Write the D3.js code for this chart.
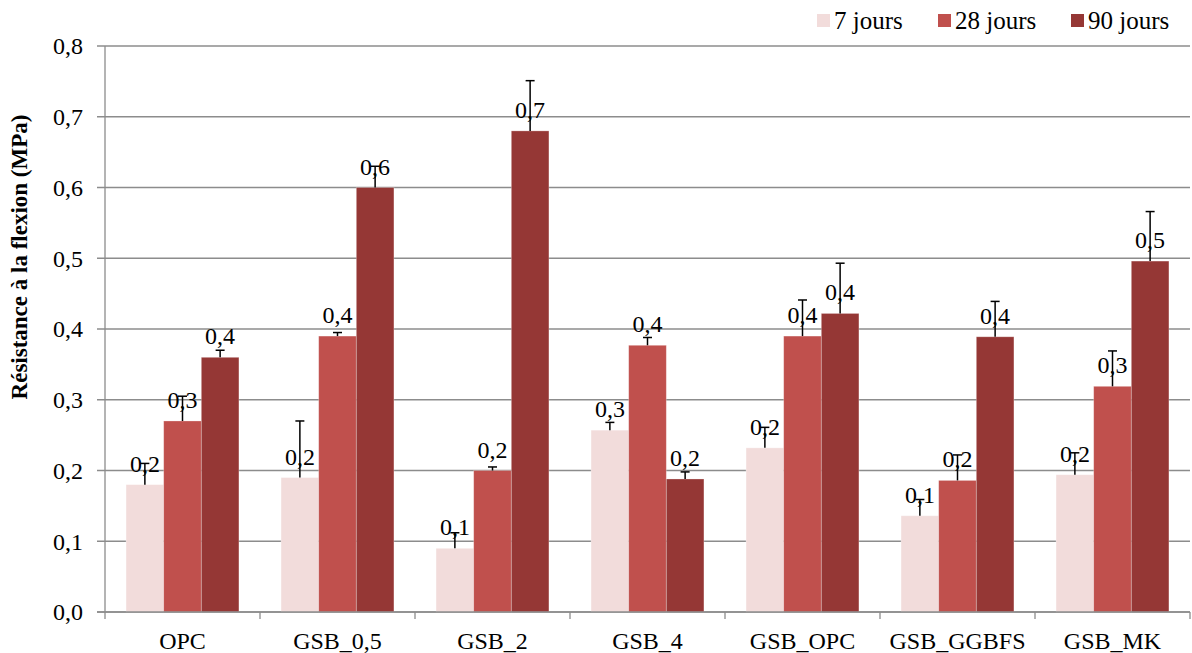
<!DOCTYPE html>
<html><head><meta charset="utf-8">
<script src="https://cdn.jsdelivr.net/npm/d3@7"></script>
<style>body{margin:0;background:#fff}svg{display:block;font-family:"Liberation Serif","Times New Roman",serif}</style>
</head><body><svg id="c" width="1192" height="653"></svg>
<script>
const categories = ["OPC","GSB_0,5","GSB_2","GSB_4","GSB_OPC","GSB_GGBFS","GSB_MK"];
const seriesNames = ["7 jours","28 jours","90 jours"];
const colors = ["#F2DCDB","#C0504D","#953735"];
const values7 = [0.18,0.19,0.09,0.257,0.232,0.136,0.194];
const values28 = [0.27,0.39,0.20,0.377,0.39,0.186,0.319];
const values90 = [0.36,0.60,0.68,0.188,0.422,0.389,0.496];
const err7 = [0.03,0.08,0.022,0.011,0.029,0.023,0.031];
const err28 = [0.035,0.005,0.005,0.011,0.051,0.036,0.05];
const err90 = [0.01,0.03,0.071,0.01,0.071,0.05,0.07];
const yTicks = [0,0.1,0.2,0.3,0.4,0.5,0.6,0.7,0.8];
const yTitle = "Résistance à la flexion (MPa)";

const vals = [values7, values28, values90];
const errs = [err7, err28, err90];
const svg = d3.select("#c");
const L = 105, R = 1190, T = 46, B = 612;
const x0 = d3.scaleBand().domain(categories).range([L,R]).paddingInner(0).paddingOuter(0);
const x1 = d3.scaleBand().domain(d3.range(3)).range([0,x0.bandwidth()]).paddingOuter(0.56).paddingInner(0);
const y = d3.scaleLinear().domain([0,0.8]).range([B,T]);
const fmt = v => d3.format(".1f")(v).replace(".",",");

// gridlines
svg.append("g").selectAll("line").data(yTicks).join("line")
  .attr("x1",L-8).attr("x2",R).attr("y1",d=>y(d)).attr("y2",d=>y(d))
  .attr("stroke","#8c8c8c").attr("stroke-width",1.3);
// y tick labels
svg.append("g").selectAll("text").data(yTicks).join("text")
  .attr("x",83).attr("y",d=>y(d)).attr("dy","0.35em").attr("text-anchor","end")
  .attr("font-size",24).text(d=>fmt(d));
// y axis line
svg.append("line").attr("x1",L).attr("x2",L).attr("y1",T).attr("y2",B).attr("stroke","#8c8c8c").attr("stroke-width",1.3);

// bars
const g = svg.append("g");
categories.forEach((c,i)=>{
  vals.forEach((arr,s)=>{
    const bx = x0(c)+x1(s), bw = x1.bandwidth();
    g.append("rect").attr("x",bx).attr("y",y(arr[i])).attr("width",bw).attr("height",y(0)-y(arr[i]))
      .attr("fill",colors[s]).attr("stroke","#fff").attr("stroke-opacity",0.35).attr("stroke-width",0.8);
  });
});
// error bars + labels
categories.forEach((c,i)=>{
  vals.forEach((arr,s)=>{
    const cx = x0(c)+x1(s)+x1.bandwidth()/2;
    const top = y(arr[i]+errs[s][i]);
    g.append("line").attr("x1",cx).attr("x2",cx).attr("y1",y(arr[i])).attr("y2",top).attr("stroke","#000").attr("stroke-width",1.5);
    g.append("line").attr("x1",cx-4.5).attr("x2",cx+4.5).attr("y1",top).attr("y2",top).attr("stroke","#000").attr("stroke-width",1.5);
    g.append("text").attr("x",cx).attr("y",y(arr[i])-13).attr("text-anchor","middle").attr("font-size",24).text(fmt(arr[i]));
  });
});

// x axis
svg.append("line").attr("x1",L-8).attr("x2",R).attr("y1",B).attr("y2",B).attr("stroke","#8c8c8c").attr("stroke-width",1.3);
const bounds = categories.map(c=>x0(c)).concat([R]);
svg.append("g").selectAll("line").data(bounds).join("line")
  .attr("x1",d=>d).attr("x2",d=>d).attr("y1",B).attr("y2",B+7).attr("stroke","#8c8c8c").attr("stroke-width",1.3);
svg.append("g").selectAll("text").data(categories).join("text")
  .attr("x",d=>x0(d)+x0.bandwidth()/2).attr("y",649).attr("text-anchor","middle").attr("font-size",24).text(d=>d);

// y title
svg.append("text").attr("transform","translate(27,257) rotate(-90)")
  .attr("text-anchor","middle").attr("font-size",23).attr("font-weight","bold").text(yTitle);

// legend
const legX = [817,938,1071];
seriesNames.forEach((n,s)=>{
  svg.append("rect").attr("x",legX[s]).attr("y",14).attr("width",13).attr("height",13).attr("fill",colors[s]);
  svg.append("text").attr("x",legX[s]+17).attr("y",29).attr("font-size",25).text(n);
});
</script></body></html>
